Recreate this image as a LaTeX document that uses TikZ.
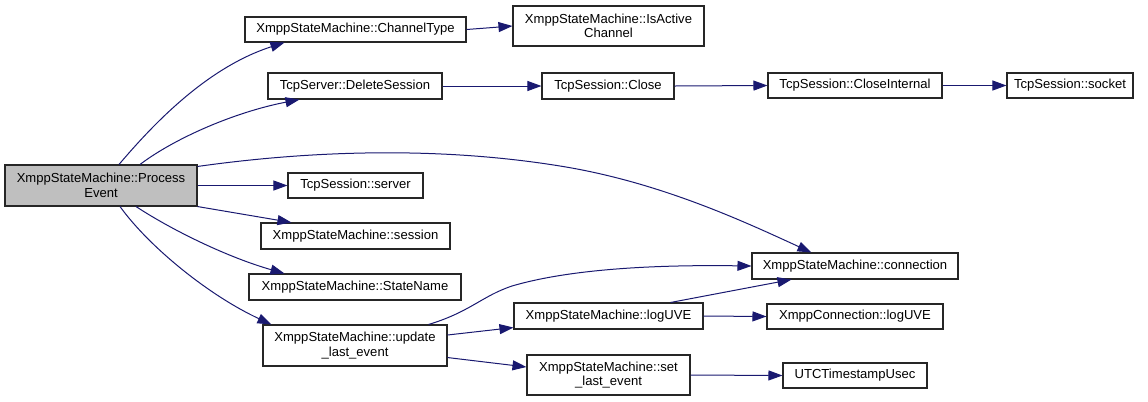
\documentclass[tikz,border=0pt]{standalone}
\usepackage{fontspec}
\setmainfont{Liberation Sans}
\usetikzlibrary{arrows.meta}
\definecolor{edgeblue}{HTML}{191970}
\definecolor{pegray}{HTML}{BFBFBF}
\newcommand\mkbox[7][]{%
  \node[box,#1,minimum width={(#5-#3)*0.75pt},minimum height={(#6-#4)*0.75pt}] (#2) at ({(#3+#5)/2},{(#4+#6)/2}) {#7};}
\begin{document}
\begin{tikzpicture}[x=0.75pt,y=-0.75pt,
  box/.style={draw=black!85,line width=0.8pt,fill=white,inner sep=0pt,align=center,
    font=\fontsize{9.8}{10.8}\selectfont},
  edge/.style={draw=edgeblue,line width=0.75pt,-{Triangle[length=10.5pt,width=7.5pt]}}]
\useasboundingbox (0,0) rectangle (1148,401);
\mkbox[fill=pegray]{pe}{5}{165}{197}{206}{XmppStateMachine::Process\\Event}
\mkbox{ct}{245}{17}{466}{42}{XmppStateMachine::ChannelType}
\mkbox{ia}{513}{6}{704}{46}{XmppStateMachine::IsActive\\Channel}
\mkbox{ds}{268}{73}{442}{99}{TcpServer::DeleteSession}
\mkbox{cl}{542}{73}{674}{99}{TcpSession::Close}
\mkbox{ci}{768}{73}{942}{98}{TcpSession::CloseInternal}
\mkbox{so}{1007}{73}{1133}{98}{TcpSession::socket}
\mkbox{srv}{288}{173}{423}{198}{TcpSession::server}
\mkbox{ses}{261}{223}{450}{249}{XmppStateMachine::session}
\mkbox{sn}{249}{274}{461}{300}{XmppStateMachine::StateName}
\mkbox{upd}{263}{325}{447}{366}{XmppStateMachine::update\\\_last\_event}
\mkbox{lu}{514}{303}{703}{329}{XmppStateMachine::logUVE}
\mkbox{sle}{527}{355}{690}{395}{XmppStateMachine::set\\\_last\_event}
\mkbox{conn}{752}{253}{958}{279}{XmppStateMachine::connection}
\mkbox{xcl}{767}{304}{943}{329}{XmppConnection::logUVE}
\mkbox{utc}{783}{363}{927}{388}{UTCTimestampUsec}

% edges from ProcessEvent
\draw[edge] ([xshift=13.5pt]pe.north) .. controls (150,128) and (205,68) .. ([xshift=30pt]ct.south west);
\draw[edge] ([xshift=29.25pt]pe.north) .. controls (175,138) and (235,112) .. ([xshift=24pt]ds.south west);
\draw[edge] ([yshift=-1.5pt]pe.north east) .. controls (300,152) and (430,145) .. (560,166)
  .. controls (660,182) and (745,222) .. ([xshift=45pt]conn.north west);
\draw[edge] (pe.east) -- (srv.west);
\draw[edge] (pe.south east) -- ([xshift=23.25pt]ses.north west);
\draw[edge] ([xshift=26.25pt]pe.south) .. controls (175,232) and (230,258) .. ([xshift=27pt]sn.north west);
\draw[edge] ([xshift=14.25pt]pe.south) .. controls (150,248) and (210,296) .. ([xshift=6.75pt]upd.north west);
% other edges
\draw[edge] (ct.east) -- (ia.west);
\draw[edge] (ds.east) -- (cl.west);
\draw[edge] (cl.east) -- (ci.west);
\draw[edge] (ci.east) -- (so.west);
\draw[edge] ([xshift=-14.25pt]upd.north east) .. controls (470,312) and (482,296) .. (512,286)
  .. controls (580,266) and (680,265) .. (conn.west);
\draw[edge] ([yshift=7.875pt]upd.east) -- ([yshift=1.5pt]lu.south west);
\draw[edge] ([yshift=6.75pt]upd.south east) -- ([yshift=6pt]sle.west);
\draw[edge] ([xshift=-24.75pt]lu.north east) -- ([xshift=30pt]conn.south west);
\draw[edge] (lu.east) -- (xcl.west);
\draw[edge] (sle.east) -- (utc.west);
\end{tikzpicture}
\end{document}
